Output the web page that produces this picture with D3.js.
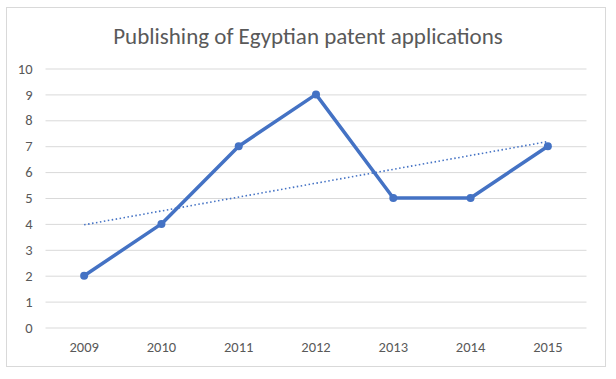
<!DOCTYPE html>
<html><head><meta charset="utf-8">
<script src="https://cdn.jsdelivr.net/npm/d3@7"></script>
<style>body{margin:0;background:#fff}svg{display:block}</style>
</head><body>
<script>
const title = "Publishing of Egyptian patent applications";
const years = ["2009","2010","2011","2012","2013","2014","2015"];
const values = [2,4,7,9,5,5,7];
const yTicks = [0,1,2,3,4,5,6,7,8,9,10];

const W=616,H=379;
const svg=d3.select("body").append("svg").attr("width",W).attr("height",H);
svg.append("rect").attr("x",6.5).attr("y",7.5).attr("width",599).attr("height",359)
  .attr("fill","#fff").attr("stroke","#d9d9d9");

const x=d3.scaleBand().domain(years).range([45.5,586.5]);
const y=d3.scaleLinear().domain([0,10]).range([327.5,68.5]);
const font="Carlito, Calibri, 'Liberation Sans', sans-serif";

svg.append("text").attr("x",308).attr("y",44).attr("text-anchor","middle")
  .attr("font-family",font).attr("font-size",23).attr("fill","#595959").text(title);

const gy=svg.append("g").attr("transform","translate(45.5,0)")
  .call(d3.axisLeft(y).tickValues(yTicks).tickSize(-541).tickPadding(13).tickFormat(d3.format("d")));
gy.select(".domain").remove();
gy.selectAll("line").attr("stroke","#d9d9d9");
gy.selectAll("text").attr("font-family",font).attr("font-size",14.5).attr("fill","#595959");

const gx=svg.append("g").attr("transform","translate(0,327.5)")
  .call(d3.axisBottom(x).tickSize(0).tickPadding(14));
gx.select(".domain").remove();
gx.selectAll("text").attr("font-family",font).attr("font-size",14.5).attr("fill","#595959");

const cx=d=>x(d)+x.bandwidth()/2;
// linear trendline from data
const n=values.length, xs=values.map((v,i)=>i+1);
const mx=d3.mean(xs), my=d3.mean(values);
const slope=d3.sum(xs.map((xi,i)=>(xi-mx)*(values[i]-my)))/d3.sum(xs.map(xi=>(xi-mx)**2));
const icpt=my-slope*mx;
svg.append("line").attr("x1",cx(years[0])).attr("y1",y(icpt+slope*1))
  .attr("x2",cx(years[n-1])).attr("y2",y(icpt+slope*n))
  .attr("stroke","#4472C4").attr("stroke-width",1.6).attr("stroke-dasharray","1.5,2.5");

const line=d3.line().x((d,i)=>cx(years[i])).y(d=>y(d));
svg.append("path").datum(values).attr("d",line).attr("fill","none")
  .attr("stroke","#4472C4").attr("stroke-width",3.5).attr("stroke-linejoin","round");
svg.selectAll("circle.m").data(values).join("circle").attr("class","m")
  .attr("cx",(d,i)=>cx(years[i])).attr("cy",d=>y(d)).attr("r",4).attr("fill","#4472C4");
</script>
</body></html>
